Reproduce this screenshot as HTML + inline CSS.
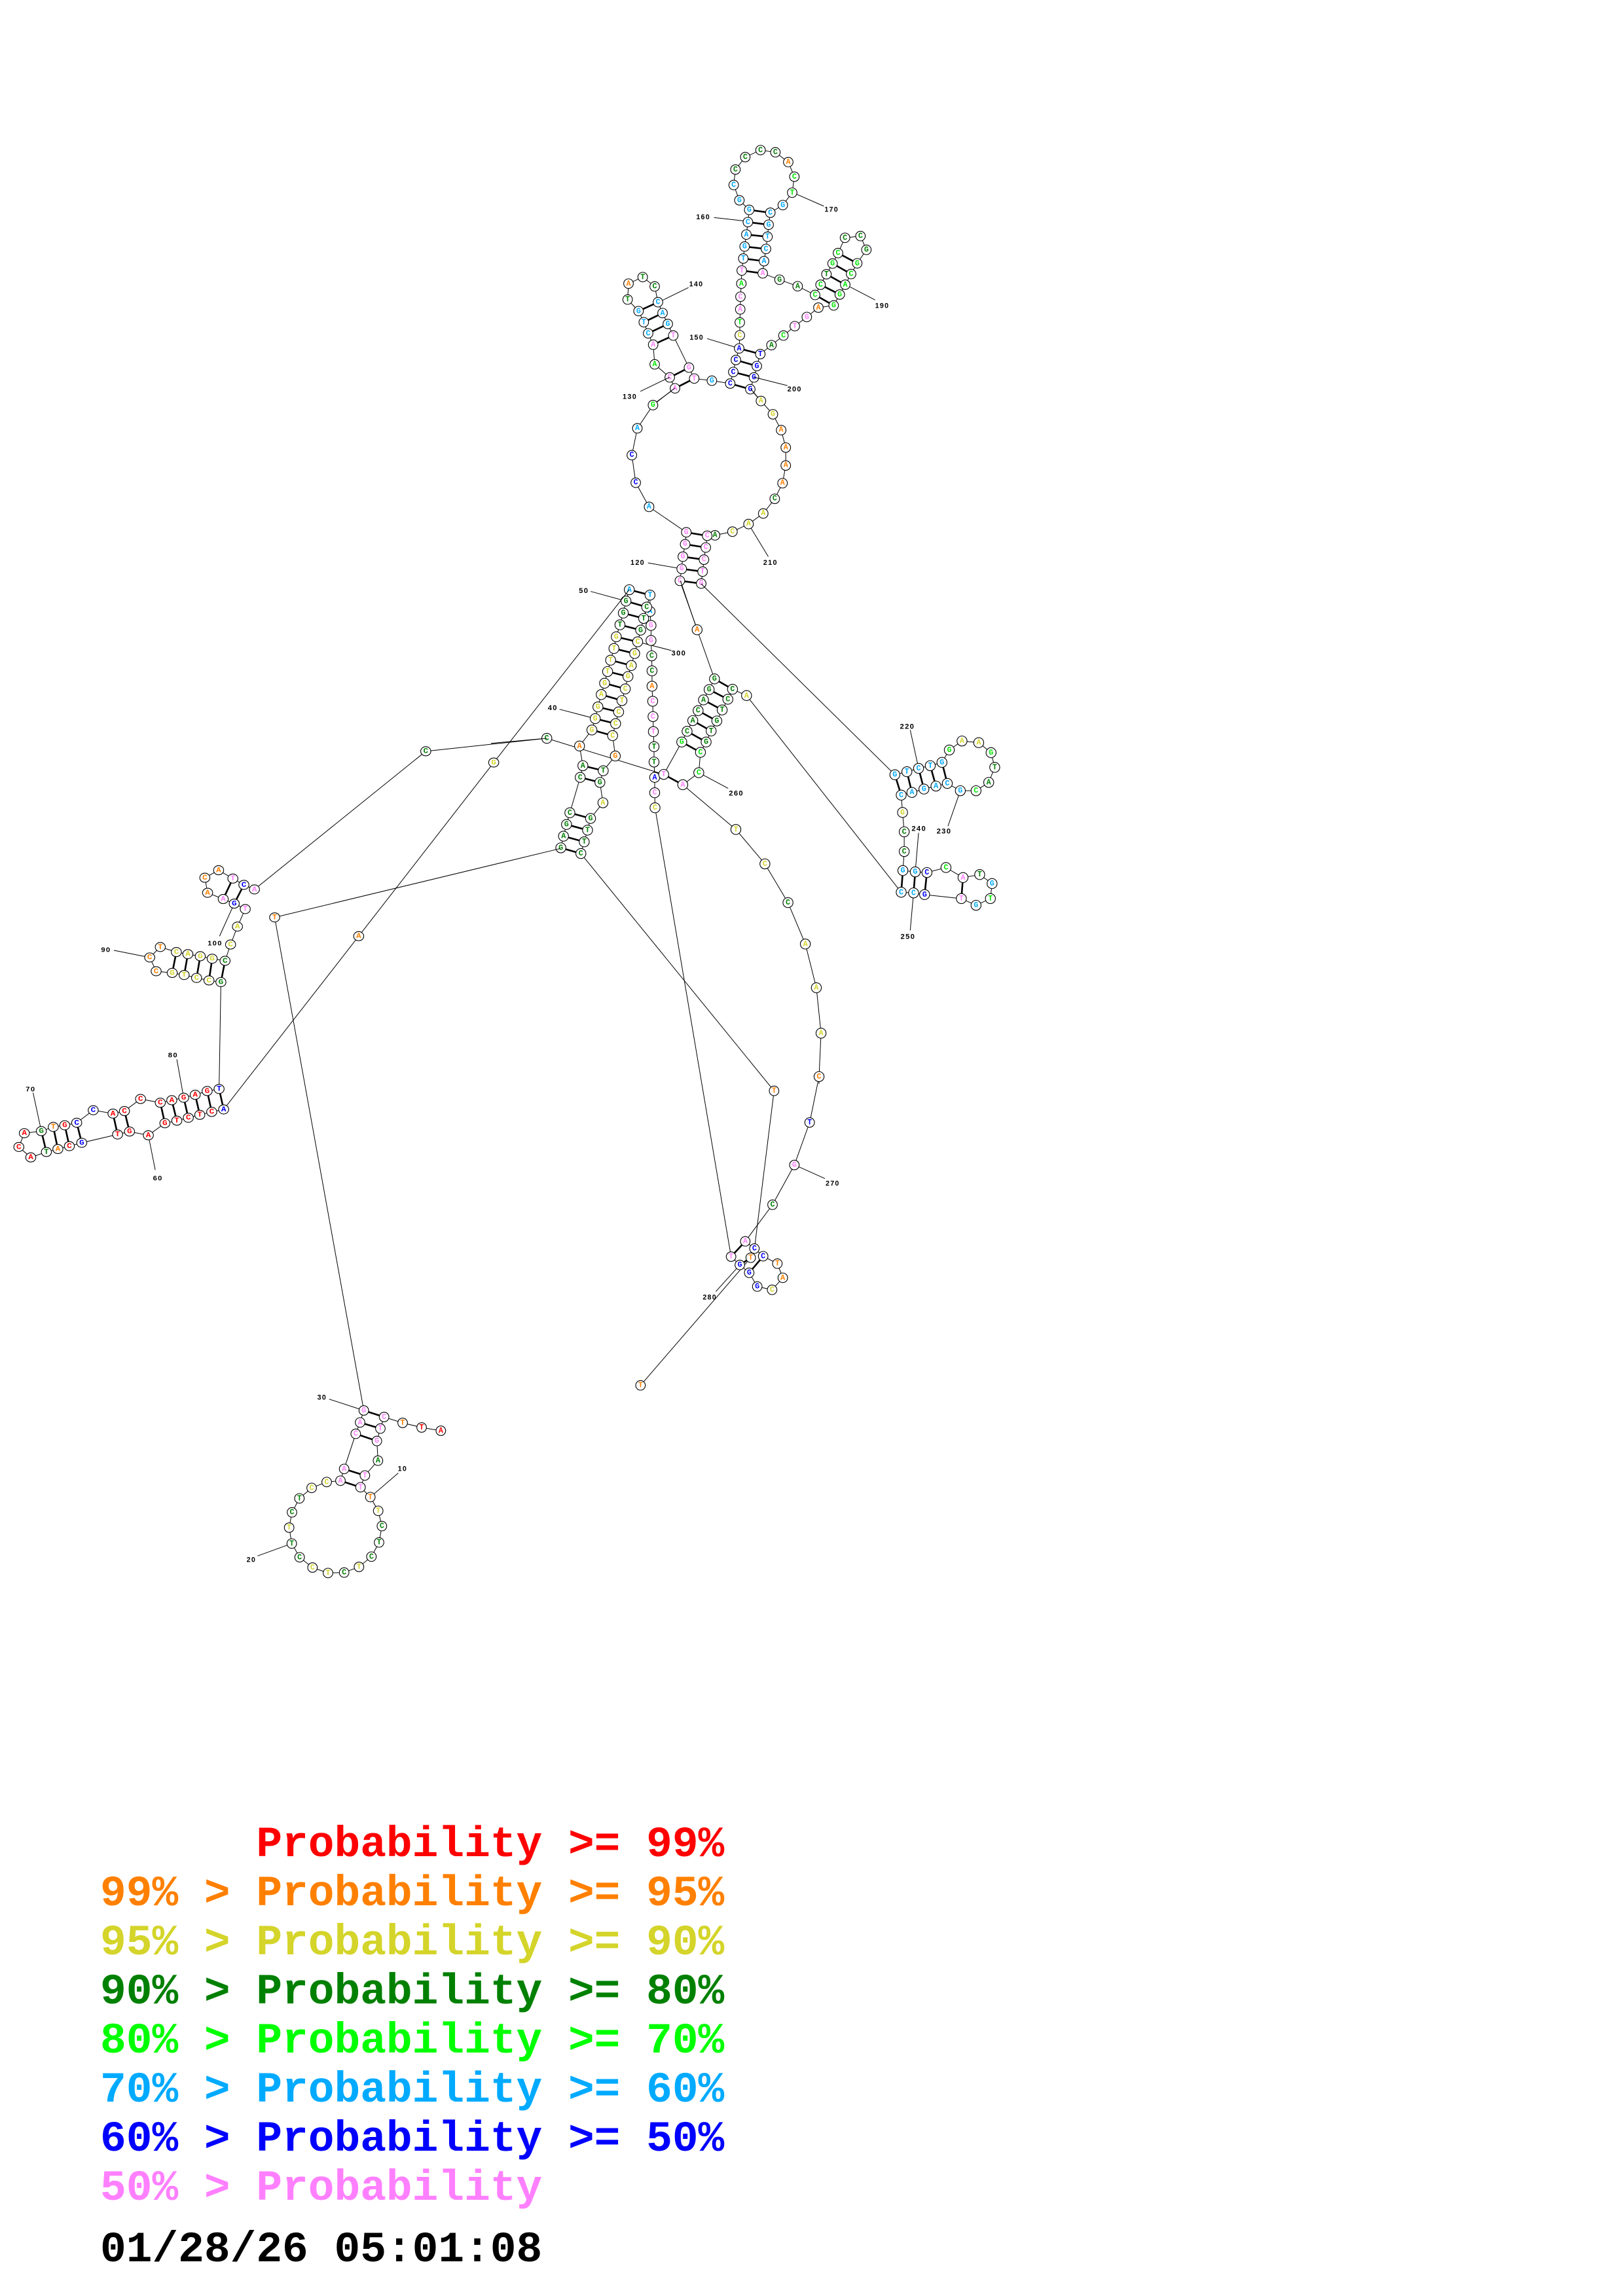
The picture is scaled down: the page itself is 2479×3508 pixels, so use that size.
<!DOCTYPE html>
<html><head><meta charset="utf-8"><style>
html,body{margin:0;padding:0;background:#fff}
body{width:2479px;height:3508px;position:relative;overflow:hidden}
svg{position:absolute;left:0;top:0}
svg text{font-family:"Liberation Mono",monospace;font-weight:bold;text-anchor:middle;dominant-baseline:central}
circle{fill:#fff;stroke:#000;stroke-width:1.1;vector-effect:non-scaling-stroke}
.l{fill:none;stroke:#000;stroke-width:1;vector-effect:non-scaling-stroke}
.pr{stroke:#000;stroke-width:2.6;vector-effect:non-scaling-stroke}
svg text.lab{font-family:"Liberation Sans",sans-serif;text-anchor:start;fill:#000;dominant-baseline:alphabetic;letter-spacing:.12em}
.r{fill:#f00}.o{fill:#ff8000}.y{fill:#d4d42a}.d{fill:#008000}.g{fill:#00e600}.b{fill:#00aaff}.n{fill:#0000ff}.p{fill:#ff80ff}
.z2 circle,.z6 circle,.z7 circle{r:22px}.z2 text,.z6 text,.z7 text{font-size:35px}.z2 .lab,.z6 .lab,.z7 .lab{font-size:32px}
.z5 circle{r:21px}.z5 text{font-size:33px}.z5 .lab{font-size:31px}
.z4 circle{r:15px}.z4 text{font-size:23px}.z4 .lab{font-size:22px}
.z3 circle{r:11px}.z3 text{font-size:18px}.z3 .lab{font-size:16px}
.leg{position:absolute;left:153px;font-family:"Liberation Mono",monospace;font-weight:bold;font-size:66.2px;white-space:pre;line-height:1}
</style></head><body>
<svg width="2479" height="3508" viewBox="0 0 2479 3508">
<line class="l" x1="419.5" y1="1401.7" x2="555.7" y2="2155"/>
<line class="l" x1="1000.5" y1="1234.2" x2="1116.7" y2="1920"/>
<line class="l" x1="887.2" y1="1304.1" x2="1182.3" y2="1666.7"/>
<line class="l" x1="1251" y1="1645" x2="1236.7" y2="1715"/>

<g class="z2" transform="translate(900,200) scale(0.33333)">
<polyline class="l" points="291,1255 393,1180 369,1130 300,1070 293,980 270,928 250,877 226,826 176,773 180,700 245,670 300,713 315,785 336,835 360,885 385,938 457,1085 481,1135 562,1145 646,1158 660,1105 672,1050 687,997 690,937 690,878 692,818 693,760 697,700 699,640 706,585 712,530 720,475 727,418 733,362 688,318 662,248 670,177 715,120 785,88 853,98 912,143 940,210 930,283 887,340 830,375 822,430 817,485 810,541 801,597 795,653 872,682 955,712 1035,752 1060,705 1087,657 1115,608 1140,560 1172,490 1243,482 1270,545 1228,607 1200,656 1173,705 1148,750 1120,800 1050,810 997,853 942,895 890,938 835,982 784,1023 768,1078 755,1130 738,1184 787,1237"/>
<line class="pr" x1="733" y1="362" x2="830" y2="375"/><line class="pr" x1="727" y1="418" x2="822" y2="430"/><line class="pr" x1="720" y1="475" x2="817" y2="485"/><line class="pr" x1="712" y1="530" x2="810" y2="541"/><line class="pr" x1="706" y1="585" x2="801" y2="597"/><line class="pr" x1="699" y1="640" x2="795" y2="653"/>
<line class="pr" x1="1140" y1="560" x2="1228" y2="607"/><line class="pr" x1="1115" y1="608" x2="1200" y2="656"/><line class="pr" x1="1087" y1="657" x2="1173" y2="705"/><line class="pr" x1="1060" y1="705" x2="1148" y2="750"/><line class="pr" x1="1035" y1="752" x2="1120" y2="800"/>
<line class="pr" x1="687" y1="997" x2="784" y2="1023"/><line class="pr" x1="672" y1="1050" x2="768" y2="1078"/><line class="pr" x1="660" y1="1105" x2="755" y2="1130"/><line class="pr" x1="646" y1="1158" x2="738" y2="1184"/>
<line class="pr" x1="226" y1="826" x2="315" y2="785"/><line class="pr" x1="250" y1="877" x2="336" y2="835"/><line class="pr" x1="270" y1="928" x2="360" y2="885"/><line class="pr" x1="293" y1="980" x2="385" y2="938"/><line class="pr" x1="369" y1="1130" x2="457" y2="1085"/><line class="pr" x1="393" y1="1180" x2="481" y2="1135"/>
<line class="l" x1="572" y1="397" x2="705" y2="412"/><line class="l" x1="950" y1="290" x2="1075" y2="345"/><line class="l" x1="1195" y1="715" x2="1310" y2="775"/><line class="l" x1="337" y1="776" x2="455" y2="718"/><line class="l" x1="540" y1="952" x2="665" y2="990"/>
<text class="lab" x="490" y="405">160</text><text class="lab" x="1078" y="370">170</text><text class="lab" x="1310" y="812">190</text><text class="lab" x="458" y="713">140</text><text class="lab" x="460" y="957">150</text>
<circle cx="733" cy="362"/><text x="733" y="362" class="b">G</text>
<circle cx="688" cy="318"/><text x="688" y="318" class="b">G</text>
<circle cx="662" cy="248"/><text x="662" y="248" class="b">C</text>
<circle cx="670" cy="177"/><text x="670" y="177" class="d">C</text>
<circle cx="715" cy="120"/><text x="715" y="120" class="d">C</text>
<circle cx="785" cy="88"/><text x="785" y="88" class="d">C</text>
<circle cx="853" cy="98"/><text x="853" y="98" class="d">C</text>
<circle cx="912" cy="143"/><text x="912" y="143" class="o">A</text>
<circle cx="940" cy="210"/><text x="940" y="210" class="g">C</text>
<circle cx="930" cy="283"/><text x="930" y="283" class="g">T</text>
<circle cx="887" cy="340"/><text x="887" y="340" class="b">G</text>
<circle cx="830" cy="375"/><text x="830" y="375" class="b">C</text>
<circle cx="727" cy="418"/><text x="727" y="418" class="b">C</text>
<circle cx="720" cy="475"/><text x="720" y="475" class="b">A</text>
<circle cx="712" cy="530"/><text x="712" y="530" class="b">G</text>
<circle cx="706" cy="585"/><text x="706" y="585" class="b">T</text>
<circle cx="699" cy="640"/><text x="699" y="640" class="p">T</text>
<circle cx="822" cy="430"/><text x="822" y="430" class="b">G</text>
<circle cx="817" cy="485"/><text x="817" y="485" class="b">T</text>
<circle cx="810" cy="541"/><text x="810" y="541" class="b">C</text>
<circle cx="801" cy="597"/><text x="801" y="597" class="b">A</text>
<circle cx="795" cy="653"/><text x="795" y="653" class="p">A</text>
<circle cx="697" cy="700"/><text x="697" y="700" class="g">A</text>
<circle cx="693" cy="760"/><text x="693" y="760" class="p">C</text>
<circle cx="692" cy="818"/><text x="692" y="818" class="p">A</text>
<circle cx="690" cy="878"/><text x="690" y="878" class="g">T</text>
<circle cx="690" cy="937"/><text x="690" y="937" class="y">C</text>
<circle cx="687" cy="997"/><text x="687" y="997" class="n">A</text>
<circle cx="672" cy="1050"/><text x="672" y="1050" class="n">C</text>
<circle cx="660" cy="1105"/><text x="660" y="1105" class="n">C</text>
<circle cx="646" cy="1158"/><text x="646" y="1158" class="n">C</text>
<circle cx="784" cy="1023"/><text x="784" y="1023" class="n">T</text>
<circle cx="768" cy="1078"/><text x="768" y="1078" class="n">G</text>
<circle cx="755" cy="1130"/><text x="755" y="1130" class="n">G</text>
<circle cx="738" cy="1184"/><text x="738" y="1184" class="n">G</text>
<circle cx="872" cy="682"/><text x="872" y="682" class="d">G</text>
<circle cx="955" cy="712"/><text x="955" y="712" class="d">A</text>
<circle cx="1035" cy="752"/><text x="1035" y="752" class="g">C</text>
<circle cx="1060" cy="705"/><text x="1060" y="705" class="g">C</text>
<circle cx="1087" cy="657"/><text x="1087" y="657" class="d">T</text>
<circle cx="1115" cy="608"/><text x="1115" y="608" class="g">G</text>
<circle cx="1140" cy="560"/><text x="1140" y="560" class="g">C</text>
<circle cx="1172" cy="490"/><text x="1172" y="490" class="d">C</text>
<circle cx="1243" cy="482"/><text x="1243" y="482" class="d">C</text>
<circle cx="1270" cy="545"/><text x="1270" y="545" class="d">G</text>
<circle cx="1228" cy="607"/><text x="1228" y="607" class="g">G</text>
<circle cx="1200" cy="656"/><text x="1200" y="656" class="g">C</text>
<circle cx="1173" cy="705"/><text x="1173" y="705" class="g">A</text>
<circle cx="1148" cy="750"/><text x="1148" y="750" class="g">G</text>
<circle cx="1120" cy="800"/><text x="1120" y="800" class="g">G</text>
<circle cx="1050" cy="810"/><text x="1050" y="810" class="o">A</text>
<circle cx="997" cy="853"/><text x="997" y="853" class="p">G</text>
<circle cx="942" cy="895"/><text x="942" y="895" class="p">T</text>
<circle cx="890" cy="938"/><text x="890" y="938" class="g">C</text>
<circle cx="835" cy="982"/><text x="835" y="982" class="d">A</text>
<circle cx="180" cy="700"/><text x="180" y="700" class="o">A</text>
<circle cx="245" cy="670"/><text x="245" y="670" class="d">T</text>
<circle cx="300" cy="713"/><text x="300" y="713" class="d">C</text>
<circle cx="176" cy="773"/><text x="176" y="773" class="d">T</text>
<circle cx="315" cy="785"/><text x="315" y="785" class="b">C</text>
<circle cx="336" cy="835"/><text x="336" y="835" class="b">A</text>
<circle cx="360" cy="885"/><text x="360" y="885" class="b">G</text>
<circle cx="385" cy="938"/><text x="385" y="938" class="p">T</text>
<circle cx="226" cy="826"/><text x="226" y="826" class="b">G</text>
<circle cx="250" cy="877"/><text x="250" y="877" class="b">T</text>
<circle cx="270" cy="928"/><text x="270" y="928" class="b">C</text>
<circle cx="293" cy="980"/><text x="293" y="980" class="p">A</text>
<circle cx="300" cy="1070"/><text x="300" y="1070" class="g">A</text>
<circle cx="369" cy="1130"/><text x="369" y="1130" class="p">C</text>
<circle cx="393" cy="1180"/><text x="393" y="1180" class="p">A</text>
<circle cx="457" cy="1085"/><text x="457" y="1085" class="p">G</text>
<circle cx="481" cy="1135"/><text x="481" y="1135" class="p">T</text>
<circle cx="562" cy="1145"/><text x="562" y="1145" class="b">G</text>
</g>

<g class="z5" transform="translate(850,540) scale(0.35088)">
<polyline class="l" points="516,150 420,225 352,326 328,443 345,563 403,668 565,779 560,831 550,885 545,938 537,990 613,1203"/>
<polyline class="l" points="846,155 890,207 942,265 978,334 998,410 998,488 984,565 950,633 900,697 836,743 766,776 690,792 656,794 650,845 642,898 636,950 630,1002"/>
<line class="pr" x1="565" y1="779" x2="656" y2="794"/><line class="pr" x1="560" y1="831" x2="650" y2="845"/><line class="pr" x1="550" y1="885" x2="642" y2="898"/><line class="pr" x1="545" y1="938" x2="636" y2="950"/><line class="pr" x1="537" y1="990" x2="630" y2="1002"/>
<line class="l" x1="365" y1="165" x2="494" y2="103"/><line class="l" x1="858" y1="103" x2="1005" y2="140"/><line class="l" x1="836" y1="743" x2="922" y2="885"/><line class="l" x1="398" y1="912" x2="545" y2="938"/>
<text class="lab" x="288" y="198">130</text><text class="lab" x="1005" y="166">200</text><text class="lab" x="900" y="920">210</text><text class="lab" x="322" y="921">120</text>
<circle cx="420" cy="225"/><text x="420" y="225" class="g">G</text>
<circle cx="352" cy="326"/><text x="352" y="326" class="b">A</text>
<circle cx="328" cy="443"/><text x="328" y="443" class="n">C</text>
<circle cx="345" cy="563"/><text x="345" y="563" class="n">C</text>
<circle cx="403" cy="668"/><text x="403" y="668" class="b">A</text>
<circle cx="565" cy="779"/><text x="565" y="779" class="p">G</text>
<circle cx="560" cy="831"/><text x="560" y="831" class="p">G</text>
<circle cx="550" cy="885"/><text x="550" y="885" class="p">G</text>
<circle cx="545" cy="938"/><text x="545" y="938" class="p">G</text>
<circle cx="537" cy="990"/><text x="537" y="990" class="p">C</text>
<circle cx="890" cy="207"/><text x="890" y="207" class="y">A</text>
<circle cx="942" cy="265"/><text x="942" y="265" class="y">G</text>
<circle cx="978" cy="334"/><text x="978" y="334" class="o">A</text>
<circle cx="998" cy="410"/><text x="998" y="410" class="o">A</text>
<circle cx="998" cy="488"/><text x="998" y="488" class="o">A</text>
<circle cx="984" cy="565"/><text x="984" y="565" class="o">A</text>
<circle cx="950" cy="633"/><text x="950" y="633" class="d">C</text>
<circle cx="900" cy="697"/><text x="900" y="697" class="y">A</text>
<circle cx="836" cy="743"/><text x="836" y="743" class="y">A</text>
<circle cx="766" cy="776"/><text x="766" y="776" class="y">C</text>
<circle cx="690" cy="792"/><text x="690" y="792" class="d">A</text>
<circle cx="656" cy="794"/><text x="656" y="794" class="p">C</text>
<circle cx="650" cy="845"/><text x="650" y="845" class="p">C</text>
<circle cx="642" cy="898"/><text x="642" y="898" class="p">C</text>
<circle cx="636" cy="950"/><text x="636" y="950" class="p">T</text>
<circle cx="630" cy="1002"/><text x="630" y="1002" class="p">G</text>
</g>

<g class="z4" transform="translate(750,850) scale(0.5102)">
<polyline class="l" points="209,873 217,838 226,803 236,768 267,662 275,627 265,568 302,520 312,486 320,451 330,414 340,380 349,345 358,311 368,276 375,241 386,205 396,170 404,134 414,100 476,116 466,152 457,186 448,221 439,256 430,291 420,327 410,360 402,397 392,432 382,466 373,501 364,537 372,598 336,642 326,677 335,738 298,785 289,820 279,855 269,890"/>
<polyline class="l" points="476,116 476,165 479,207 479,252 481,298 482,343 482,389 484,434 485,480 486,525 488,570 488,616 490,662 490,708 491,753"/>
<polyline class="l" points="567,73 617,220 669,367 653,399 636,430 620,462 604,492 587,524 571,556 517,653 574,684 622,648 627,587 644,556 659,523 676,493 692,460 709,428 723,398 765,417 1228,1006"/>
<polyline class="l" points="574,684 733,818 820,921 889,1037 941,1161 974,1292 988,1428 982,1558 982,1580"/>
<polyline class="l" points="629,82 1209,654 1245,645 1280,635 1315,627 1350,617 1372,580 1410,553 1460,558 1497,588 1508,632 1490,677 1452,702 1405,702 1366,680 1332,688 1296,697 1260,707 1228,715 1232,767 1237,825 1237,884 1233,941 1270,945 1305,947 1362,932 1413,962 1463,953 1500,980 1495,1025 1452,1045 1408,1025 1298,1013 1265,1008 1228,1006"/>
<polyline class="l" points="0,560 167,545 517,653"/>
<line class="pr" x1="414" y1="100" x2="476" y2="116"/><line class="pr" x1="404" y1="134" x2="466" y2="152"/><line class="pr" x1="396" y1="170" x2="457" y2="186"/><line class="pr" x1="386" y1="205" x2="448" y2="221"/><line class="pr" x1="375" y1="241" x2="439" y2="256"/><line class="pr" x1="368" y1="276" x2="430" y2="291"/><line class="pr" x1="358" y1="311" x2="420" y2="327"/><line class="pr" x1="349" y1="345" x2="410" y2="360"/><line class="pr" x1="340" y1="380" x2="402" y2="397"/><line class="pr" x1="330" y1="414" x2="392" y2="432"/><line class="pr" x1="320" y1="451" x2="382" y2="466"/><line class="pr" x1="312" y1="486" x2="373" y2="501"/><line class="pr" x1="302" y1="520" x2="364" y2="537"/>
<line class="pr" x1="275" y1="627" x2="336" y2="642"/><line class="pr" x1="267" y1="662" x2="326" y2="677"/><line class="pr" x1="236" y1="768" x2="298" y2="785"/><line class="pr" x1="226" y1="803" x2="289" y2="820"/><line class="pr" x1="217" y1="838" x2="279" y2="855"/><line class="pr" x1="209" y1="873" x2="269" y2="890"/>
<line class="pr" x1="669" y1="367" x2="723" y2="398"/><line class="pr" x1="653" y1="399" x2="709" y2="428"/><line class="pr" x1="636" y1="430" x2="692" y2="460"/><line class="pr" x1="620" y1="462" x2="676" y2="493"/><line class="pr" x1="604" y1="492" x2="659" y2="523"/><line class="pr" x1="587" y1="524" x2="644" y2="556"/><line class="pr" x1="571" y1="556" x2="627" y2="587"/><line class="pr" x1="517" y1="653" x2="574" y2="684"/>
<line class="pr" x1="1209" y1="654" x2="1228" y2="715"/><line class="pr" x1="1245" y1="645" x2="1260" y2="707"/><line class="pr" x1="1280" y1="635" x2="1296" y2="697"/><line class="pr" x1="1315" y1="627" x2="1332" y2="688"/><line class="pr" x1="1350" y1="617" x2="1366" y2="680"/>
<line class="pr" x1="1233" y1="941" x2="1228" y2="1006"/><line class="pr" x1="1270" y1="945" x2="1265" y2="1008"/><line class="pr" x1="1305" y1="947" x2="1298" y2="1013"/><line class="pr" x1="1413" y1="962" x2="1408" y2="1025"/>
<line class="l" x1="1255" y1="520" x2="1280" y2="635"/><line class="l" x1="1368" y1="808" x2="1405" y2="702"/><line class="l" x1="1280" y1="828" x2="1270" y2="945"/><line class="l" x1="1255" y1="1120" x2="1265" y2="1008"/><line class="l" x1="710" y1="695" x2="622" y2="648"/><line class="l" x1="540" y1="282" x2="439" y2="256"/><line class="l" x1="205" y1="458" x2="312" y2="486"/><line class="l" x1="298" y1="105" x2="404" y2="134"/>
<text class="lab" x="1224" y="516">220</text><text class="lab" x="1334" y="830">230</text><text class="lab" x="1259" y="822">240</text><text class="lab" x="1226" y="1146">250</text><text class="lab" x="712" y="716">260</text><text class="lab" x="540" y="297">300</text><text class="lab" x="170" y="461">40</text><text class="lab" x="263" y="110">50</text>
<circle cx="209" cy="873"/><text x="209" y="873" class="d">G</text>
<circle cx="217" cy="838"/><text x="217" y="838" class="d">A</text>
<circle cx="226" cy="803"/><text x="226" y="803" class="d">G</text>
<circle cx="236" cy="768"/><text x="236" y="768" class="d">C</text>
<circle cx="267" cy="662"/><text x="267" y="662" class="d">C</text>
<circle cx="275" cy="627"/><text x="275" y="627" class="d">A</text>
<circle cx="265" cy="568"/><text x="265" y="568" class="o">A</text>
<circle cx="302" cy="520"/><text x="302" y="520" class="y">G</text>
<circle cx="312" cy="486"/><text x="312" y="486" class="y">G</text>
<circle cx="320" cy="451"/><text x="320" y="451" class="y">G</text>
<circle cx="330" cy="414"/><text x="330" y="414" class="y">A</text>
<circle cx="340" cy="380"/><text x="340" y="380" class="y">G</text>
<circle cx="349" cy="345"/><text x="349" y="345" class="y">T</text>
<circle cx="358" cy="311"/><text x="358" y="311" class="y">T</text>
<circle cx="368" cy="276"/><text x="368" y="276" class="y">T</text>
<circle cx="375" cy="241"/><text x="375" y="241" class="y">G</text>
<circle cx="386" cy="205"/><text x="386" y="205" class="d">T</text>
<circle cx="396" cy="170"/><text x="396" y="170" class="d">G</text>
<circle cx="404" cy="134"/><text x="404" y="134" class="d">G</text>
<circle cx="414" cy="100"/><text x="414" y="100" class="b">A</text>
<circle cx="476" cy="165"/><text x="476" y="165" class="b">A</text>
<circle cx="479" cy="207"/><text x="479" y="207" class="p">G</text>
<circle cx="479" cy="252"/><text x="479" y="252" class="p">G</text>
<circle cx="481" cy="298"/><text x="481" y="298" class="d">C</text>
<circle cx="482" cy="343"/><text x="482" y="343" class="d">C</text>
<circle cx="482" cy="389"/><text x="482" y="389" class="o">A</text>
<circle cx="484" cy="434"/><text x="484" y="434" class="p">C</text>
<circle cx="485" cy="480"/><text x="485" y="480" class="p">C</text>
<circle cx="486" cy="525"/><text x="486" y="525" class="p">T</text>
<circle cx="488" cy="570"/><text x="488" y="570" class="d">T</text>
<circle cx="488" cy="616"/><text x="488" y="616" class="d">T</text>
<circle cx="490" cy="662"/><text x="490" y="662" class="n">A</text>
<circle cx="490" cy="708"/><text x="490" y="708" class="p">C</text>
<circle cx="491" cy="753"/><text x="491" y="753" class="y">C</text>
<circle cx="476" cy="116"/><text x="476" y="116" class="b">T</text>
<circle cx="466" cy="152"/><text x="466" y="152" class="d">C</text>
<circle cx="457" cy="186"/><text x="457" y="186" class="d">T</text>
<circle cx="448" cy="221"/><text x="448" y="221" class="d">G</text>
<circle cx="439" cy="256"/><text x="439" y="256" class="y">C</text>
<circle cx="430" cy="291"/><text x="430" y="291" class="y">G</text>
<circle cx="420" cy="327"/><text x="420" y="327" class="y">A</text>
<circle cx="410" cy="360"/><text x="410" y="360" class="y">G</text>
<circle cx="402" cy="397"/><text x="402" y="397" class="y">C</text>
<circle cx="392" cy="432"/><text x="392" y="432" class="y">T</text>
<circle cx="382" cy="466"/><text x="382" y="466" class="y">C</text>
<circle cx="373" cy="501"/><text x="373" y="501" class="y">C</text>
<circle cx="364" cy="537"/><text x="364" y="537" class="y">C</text>
<circle cx="372" cy="598"/><text x="372" y="598" class="o">G</text>
<circle cx="336" cy="642"/><text x="336" y="642" class="d">T</text>
<circle cx="326" cy="677"/><text x="326" y="677" class="d">G</text>
<circle cx="335" cy="738"/><text x="335" y="738" class="y">A</text>
<circle cx="298" cy="785"/><text x="298" y="785" class="d">G</text>
<circle cx="289" cy="820"/><text x="289" y="820" class="d">T</text>
<circle cx="279" cy="855"/><text x="279" y="855" class="d">T</text>
<circle cx="269" cy="890"/><text x="269" y="890" class="d">C</text>
<circle cx="617" cy="220"/><text x="617" y="220" class="o">A</text>
<circle cx="669" cy="367"/><text x="669" y="367" class="d">G</text>
<circle cx="653" cy="399"/><text x="653" y="399" class="d">G</text>
<circle cx="636" cy="430"/><text x="636" y="430" class="d">A</text>
<circle cx="620" cy="462"/><text x="620" y="462" class="d">C</text>
<circle cx="604" cy="492"/><text x="604" y="492" class="d">A</text>
<circle cx="587" cy="524"/><text x="587" y="524" class="d">C</text>
<circle cx="571" cy="556"/><text x="571" y="556" class="g">G</text>
<circle cx="517" cy="653"/><text x="517" y="653" class="p">T</text>
<circle cx="574" cy="684"/><text x="574" y="684" class="p">A</text>
<circle cx="622" cy="648"/><text x="622" y="648" class="g">C</text>
<circle cx="627" cy="587"/><text x="627" y="587" class="g">C</text>
<circle cx="644" cy="556"/><text x="644" y="556" class="d">G</text>
<circle cx="659" cy="523"/><text x="659" y="523" class="d">T</text>
<circle cx="676" cy="493"/><text x="676" y="493" class="d">G</text>
<circle cx="692" cy="460"/><text x="692" y="460" class="d">T</text>
<circle cx="709" cy="428"/><text x="709" y="428" class="d">C</text>
<circle cx="723" cy="398"/><text x="723" y="398" class="d">C</text>
<circle cx="765" cy="417"/><text x="765" y="417" class="y">A</text>
<circle cx="167" cy="545"/><text x="167" y="545" class="d">C</text>
<circle cx="733" cy="818"/><text x="733" y="818" class="y">T</text>
<circle cx="820" cy="921"/><text x="820" y="921" class="y">C</text>
<circle cx="889" cy="1037"/><text x="889" y="1037" class="d">C</text>
<circle cx="941" cy="1161"/><text x="941" y="1161" class="y">A</text>
<circle cx="974" cy="1292"/><text x="974" y="1292" class="y">A</text>
<circle cx="988" cy="1428"/><text x="988" y="1428" class="y">A</text>
<circle cx="982" cy="1558"/><text x="982" y="1558" class="o">C</text>
<circle cx="1209" cy="654"/><text x="1209" y="654" class="b">G</text>
<circle cx="1245" cy="645"/><text x="1245" y="645" class="b">T</text>
<circle cx="1280" cy="635"/><text x="1280" y="635" class="b">C</text>
<circle cx="1315" cy="627"/><text x="1315" y="627" class="b">T</text>
<circle cx="1350" cy="617"/><text x="1350" y="617" class="b">G</text>
<circle cx="1372" cy="580"/><text x="1372" y="580" class="g">G</text>
<circle cx="1410" cy="553"/><text x="1410" y="553" class="y">A</text>
<circle cx="1460" cy="558"/><text x="1460" y="558" class="y">A</text>
<circle cx="1497" cy="588"/><text x="1497" y="588" class="g">G</text>
<circle cx="1508" cy="632"/><text x="1508" y="632" class="d">T</text>
<circle cx="1490" cy="677"/><text x="1490" y="677" class="d">A</text>
<circle cx="1452" cy="702"/><text x="1452" y="702" class="g">C</text>
<circle cx="1405" cy="702"/><text x="1405" y="702" class="b">G</text>
<circle cx="1366" cy="680"/><text x="1366" y="680" class="b">C</text>
<circle cx="1332" cy="688"/><text x="1332" y="688" class="b">A</text>
<circle cx="1296" cy="697"/><text x="1296" y="697" class="b">G</text>
<circle cx="1260" cy="707"/><text x="1260" y="707" class="b">A</text>
<circle cx="1228" cy="715"/><text x="1228" y="715" class="b">C</text>
<circle cx="1232" cy="767"/><text x="1232" y="767" class="y">G</text>
<circle cx="1237" cy="825"/><text x="1237" y="825" class="d">C</text>
<circle cx="1237" cy="884"/><text x="1237" y="884" class="d">C</text>
<circle cx="1233" cy="941"/><text x="1233" y="941" class="b">G</text>
<circle cx="1270" cy="945"/><text x="1270" y="945" class="b">G</text>
<circle cx="1305" cy="947"/><text x="1305" y="947" class="n">C</text>
<circle cx="1362" cy="932"/><text x="1362" y="932" class="g">C</text>
<circle cx="1413" cy="962"/><text x="1413" y="962" class="p">A</text>
<circle cx="1463" cy="953"/><text x="1463" y="953" class="d">T</text>
<circle cx="1500" cy="980"/><text x="1500" y="980" class="b">G</text>
<circle cx="1495" cy="1025"/><text x="1495" y="1025" class="g">T</text>
<circle cx="1452" cy="1045"/><text x="1452" y="1045" class="b">G</text>
<circle cx="1408" cy="1025"/><text x="1408" y="1025" class="p">T</text>
<circle cx="1298" cy="1013"/><text x="1298" y="1013" class="n">G</text>
<circle cx="1265" cy="1008"/><text x="1265" y="1008" class="b">C</text>
<circle cx="1228" cy="1006"/><text x="1228" y="1006" class="b">C</text>
</g>

<g class="z3" transform="translate(0,850) scale(0.70151,0.63776)">
<polyline class="l" points="487,1325 781,910 1075,494 1370,80"/>
<polyline class="l" points="598,865 1220,700"/>
<polyline class="l" points="487,1325 461,1331 435,1338 410,1345 385,1352 359,1358 323,1387 282,1378 256,1385 178,1405 151,1413 126,1420 101,1427 67,1440 41,1415 53,1382 90,1377 116,1367 141,1363 167,1357 203,1327 246,1335 271,1329 306,1300 349,1309 374,1303 400,1297 425,1290 451,1281 477,1276 481,1020 455,1016 428,1010 401,1003 375,998 340,994 326,961 349,936 384,948 409,953 436,958 462,964 490,969 502,930 517,887 534,845 510,832 486,821 452,806 446,770 476,752 507,772 531,787 554,798 927,467 1191,436"/>
<line class="pr" x1="477" y1="1276" x2="487" y2="1325"/><line class="pr" x1="451" y1="1281" x2="461" y2="1331"/><line class="pr" x1="425" y1="1290" x2="435" y2="1338"/><line class="pr" x1="400" y1="1297" x2="410" y2="1345"/><line class="pr" x1="374" y1="1303" x2="385" y2="1352"/><line class="pr" x1="349" y1="1309" x2="359" y2="1358"/><line class="pr" x1="271" y1="1329" x2="282" y2="1378"/><line class="pr" x1="246" y1="1335" x2="256" y2="1385"/><line class="pr" x1="167" y1="1357" x2="178" y2="1405"/><line class="pr" x1="141" y1="1363" x2="151" y2="1413"/><line class="pr" x1="116" y1="1367" x2="126" y2="1420"/><line class="pr" x1="90" y1="1377" x2="101" y2="1427"/>
<line class="pr" x1="481" y1="1020" x2="490" y2="969"/><line class="pr" x1="455" y1="1016" x2="462" y2="964"/><line class="pr" x1="428" y1="1010" x2="436" y2="958"/><line class="pr" x1="401" y1="1003" x2="409" y2="953"/><line class="pr" x1="375" y1="998" x2="384" y2="948"/><line class="pr" x1="510" y1="832" x2="531" y2="787"/><line class="pr" x1="486" y1="821" x2="507" y2="772"/>
<line class="l" x1="72" y1="1285" x2="90" y2="1377"/><line class="l" x1="323" y1="1387" x2="338" y2="1470"/><line class="l" x1="385" y1="1205" x2="400" y2="1297"/><line class="l" x1="248" y1="944" x2="326" y2="961"/><line class="l" x1="478" y1="910" x2="510" y2="832"/>
<text class="lab" x="56" y="1282">70</text><text class="lab" x="333" y="1495">60</text><text class="lab" x="366" y="1200">80</text><text class="lab" x="220" y="948">90</text><text class="lab" x="452" y="932">100</text>
<circle cx="781" cy="910"/><text x="781" y="910" class="o">A</text>
<circle cx="1075" cy="494"/><text x="1075" y="494" class="y">G</text>
<circle cx="598" cy="865"/><text x="598" y="865" class="o">T</text>
<circle cx="487" cy="1325"/><text x="487" y="1325" class="n">A</text>
<circle cx="461" cy="1331"/><text x="461" y="1331" class="r">C</text>
<circle cx="435" cy="1338"/><text x="435" y="1338" class="r">T</text>
<circle cx="410" cy="1345"/><text x="410" y="1345" class="r">C</text>
<circle cx="385" cy="1352"/><text x="385" y="1352" class="r">T</text>
<circle cx="359" cy="1358"/><text x="359" y="1358" class="r">G</text>
<circle cx="323" cy="1387"/><text x="323" y="1387" class="r">A</text>
<circle cx="282" cy="1378"/><text x="282" y="1378" class="r">G</text>
<circle cx="256" cy="1385"/><text x="256" y="1385" class="r">T</text>
<circle cx="178" cy="1405"/><text x="178" y="1405" class="n">G</text>
<circle cx="151" cy="1413"/><text x="151" y="1413" class="r">C</text>
<circle cx="126" cy="1420"/><text x="126" y="1420" class="o">A</text>
<circle cx="101" cy="1427"/><text x="101" y="1427" class="d">T</text>
<circle cx="67" cy="1440"/><text x="67" y="1440" class="r">A</text>
<circle cx="41" cy="1415"/><text x="41" y="1415" class="r">C</text>
<circle cx="53" cy="1382"/><text x="53" y="1382" class="r">A</text>
<circle cx="90" cy="1377"/><text x="90" y="1377" class="d">G</text>
<circle cx="116" cy="1367"/><text x="116" y="1367" class="o">T</text>
<circle cx="141" cy="1363"/><text x="141" y="1363" class="r">G</text>
<circle cx="167" cy="1357"/><text x="167" y="1357" class="n">C</text>
<circle cx="203" cy="1327"/><text x="203" y="1327" class="n">C</text>
<circle cx="246" cy="1335"/><text x="246" y="1335" class="r">A</text>
<circle cx="271" cy="1329"/><text x="271" y="1329" class="r">C</text>
<circle cx="306" cy="1300"/><text x="306" y="1300" class="r">C</text>
<circle cx="349" cy="1309"/><text x="349" y="1309" class="r">C</text>
<circle cx="374" cy="1303"/><text x="374" y="1303" class="r">A</text>
<circle cx="400" cy="1297"/><text x="400" y="1297" class="r">G</text>
<circle cx="425" cy="1290"/><text x="425" y="1290" class="r">A</text>
<circle cx="451" cy="1281"/><text x="451" y="1281" class="r">G</text>
<circle cx="477" cy="1276"/><text x="477" y="1276" class="n">T</text>
<circle cx="481" cy="1020"/><text x="481" y="1020" class="d">G</text>
<circle cx="455" cy="1016"/><text x="455" y="1016" class="y">C</text>
<circle cx="428" cy="1010"/><text x="428" y="1010" class="y">C</text>
<circle cx="401" cy="1003"/><text x="401" y="1003" class="y">T</text>
<circle cx="375" cy="998"/><text x="375" y="998" class="y">G</text>
<circle cx="340" cy="994"/><text x="340" y="994" class="o">C</text>
<circle cx="326" cy="961"/><text x="326" y="961" class="o">C</text>
<circle cx="349" cy="936"/><text x="349" y="936" class="o">T</text>
<circle cx="384" cy="948"/><text x="384" y="948" class="y">C</text>
<circle cx="409" cy="953"/><text x="409" y="953" class="y">A</text>
<circle cx="436" cy="958"/><text x="436" y="958" class="y">G</text>
<circle cx="462" cy="964"/><text x="462" y="964" class="y">G</text>
<circle cx="490" cy="969"/><text x="490" y="969" class="d">C</text>
<circle cx="502" cy="930"/><text x="502" y="930" class="y">C</text>
<circle cx="517" cy="887"/><text x="517" y="887" class="y">A</text>
<circle cx="534" cy="845"/><text x="534" y="845" class="p">T</text>
<circle cx="510" cy="832"/><text x="510" y="832" class="n">G</text>
<circle cx="486" cy="821"/><text x="486" y="821" class="p">A</text>
<circle cx="452" cy="806"/><text x="452" y="806" class="o">A</text>
<circle cx="446" cy="770"/><text x="446" y="770" class="o">C</text>
<circle cx="476" cy="752"/><text x="476" y="752" class="o">A</text>
<circle cx="507" cy="772"/><text x="507" y="772" class="p">T</text>
<circle cx="531" cy="787"/><text x="531" y="787" class="n">C</text>
<circle cx="554" cy="798"/><text x="554" y="798" class="p">A</text>
<circle cx="927" cy="467"/><text x="927" y="467" class="d">C</text>
</g>

<g class="z6" transform="translate(950,1650) scale(0.33333)">
<polyline class="l" points="860,195 790,390 690,572 565,740 607,773 647,808 712,842 737,907 688,962 620,947 583,884 540,848 500,810"/>
<line class="l" x1="697" y1="50" x2="607" y2="773"/>
<line class="l" x1="590" y1="815" x2="85" y2="1400"/>
<line class="l" x1="607" y1="773" x2="590" y2="815"/>
<line class="pr" x1="565" y1="740" x2="500" y2="810"/><line class="pr" x1="590" y1="815" x2="540" y2="848"/><line class="pr" x1="647" y1="808" x2="583" y2="884"/>
<line class="l" x1="810" y1="398" x2="930" y2="452"/><line class="l" x1="430" y1="970" x2="540" y2="848"/>
<text class="lab" x="933" y="485">270</text><text class="lab" x="370" y="1007">280</text>
<circle cx="697" cy="50"/><text x="697" y="50" class="o">T</text>
<circle cx="860" cy="195"/><text x="860" y="195" class="n">T</text>
<circle cx="790" cy="390"/><text x="790" y="390" class="p">G</text>
<circle cx="690" cy="572"/><text x="690" y="572" class="d">C</text>
<circle cx="565" cy="740"/><text x="565" y="740" class="p">A</text>
<circle cx="500" cy="810"/><text x="500" y="810" class="p">T</text>
<circle cx="540" cy="848"/><text x="540" y="848" class="n">G</text>
<circle cx="583" cy="884"/><text x="583" y="884" class="n">G</text>
<circle cx="620" cy="947"/><text x="620" y="947" class="n">G</text>
<circle cx="688" cy="962"/><text x="688" y="962" class="y">C</text>
<circle cx="737" cy="907"/><text x="737" y="907" class="o">A</text>
<circle cx="712" cy="842"/><text x="712" y="842" class="o">T</text>
<circle cx="647" cy="808"/><text x="647" y="808" class="n">C</text>
<circle cx="607" cy="773"/><text x="607" y="773" class="n">C</text>
<circle cx="590" cy="815"/><text x="590" y="815" class="o">T</text>
<circle cx="85" cy="1400"/><text x="85" y="1400" class="o">T</text>
</g>

<g class="z7" transform="translate(380,2100) scale(0.33333)">
<polyline class="l" points="880,258 792,243 705,222 620,195 603,248 587,305 592,395 532,463 512,517 557,562 593,625 610,695 597,770 562,835 505,882 437,908 363,910 292,885 233,838 197,775 185,702 198,632 232,568 288,520 357,493 420,487 437,433 490,272 510,220 527,165"/>
<line class="pr" x1="527" y1="165" x2="620" y2="195"/><line class="pr" x1="510" y1="220" x2="603" y2="248"/><line class="pr" x1="490" y1="272" x2="587" y2="305"/><line class="pr" x1="437" y1="433" x2="532" y2="463"/><line class="pr" x1="420" y1="487" x2="512" y2="517"/>
<line class="l" x1="368" y1="113" x2="527" y2="165"/><line class="l" x1="685" y1="452" x2="557" y2="562"/><line class="l" x1="40" y1="832" x2="197" y2="775"/>
<text class="lab" x="314" y="115">30</text><text class="lab" x="683" y="442">10</text><text class="lab" x="-10" y="860">20</text>
<circle cx="880" cy="258"/><text x="880" y="258" class="r">A</text>
<circle cx="792" cy="243"/><text x="792" y="243" class="r">T</text>
<circle cx="705" cy="222"/><text x="705" y="222" class="o">T</text>
<circle cx="620" cy="195"/><text x="620" y="195" class="p">C</text>
<circle cx="603" cy="248"/><text x="603" y="248" class="p">T</text>
<circle cx="587" cy="305"/><text x="587" y="305" class="p">G</text>
<circle cx="592" cy="395"/><text x="592" y="395" class="d">A</text>
<circle cx="532" cy="463"/><text x="532" y="463" class="p">T</text>
<circle cx="512" cy="517"/><text x="512" y="517" class="p">T</text>
<circle cx="557" cy="562"/><text x="557" y="562" class="o">T</text>
<circle cx="593" cy="625"/><text x="593" y="625" class="y">T</text>
<circle cx="610" cy="695"/><text x="610" y="695" class="d">C</text>
<circle cx="597" cy="770"/><text x="597" y="770" class="d">T</text>
<circle cx="562" cy="835"/><text x="562" y="835" class="d">C</text>
<circle cx="505" cy="882"/><text x="505" y="882" class="y">T</text>
<circle cx="437" cy="908"/><text x="437" y="908" class="d">C</text>
<circle cx="363" cy="910"/><text x="363" y="910" class="y">T</text>
<circle cx="292" cy="885"/><text x="292" y="885" class="y">C</text>
<circle cx="233" cy="838"/><text x="233" y="838" class="d">C</text>
<circle cx="197" cy="775"/><text x="197" y="775" class="d">T</text>
<circle cx="185" cy="702"/><text x="185" y="702" class="y">T</text>
<circle cx="198" cy="632"/><text x="198" y="632" class="d">C</text>
<circle cx="232" cy="568"/><text x="232" y="568" class="d">T</text>
<circle cx="288" cy="520"/><text x="288" y="520" class="y">C</text>
<circle cx="357" cy="493"/><text x="357" y="493" class="y">C</text>
<circle cx="420" cy="487"/><text x="420" y="487" class="p">A</text>
<circle cx="437" cy="433"/><text x="437" y="433" class="p">A</text>
<circle cx="490" cy="272"/><text x="490" y="272" class="p">C</text>
<circle cx="510" cy="220"/><text x="510" y="220" class="p">A</text>
<circle cx="527" cy="165"/><text x="527" y="165" class="p">G</text>
</g>
</svg>

<div class="leg" style="top:2786px;color:#ff0000">      Probability &gt;= 99%</div>
<div class="leg" style="top:2861px;color:#ff8000">99% &gt; Probability &gt;= 95%</div>
<div class="leg" style="top:2936px;color:#d4d42a">95% &gt; Probability &gt;= 90%</div>
<div class="leg" style="top:3011px;color:#008000">90% &gt; Probability &gt;= 80%</div>
<div class="leg" style="top:3086px;color:#00ff00">80% &gt; Probability &gt;= 70%</div>
<div class="leg" style="top:3161px;color:#00aaff">70% &gt; Probability &gt;= 60%</div>
<div class="leg" style="top:3236px;color:#0000ff">60% &gt; Probability &gt;= 50%</div>
<div class="leg" style="top:3311px;color:#ff80ff">50% &gt; Probability</div>
<div class="leg" style="top:3405px;color:#000">01/28/26 05:01:08</div>
</body></html>
